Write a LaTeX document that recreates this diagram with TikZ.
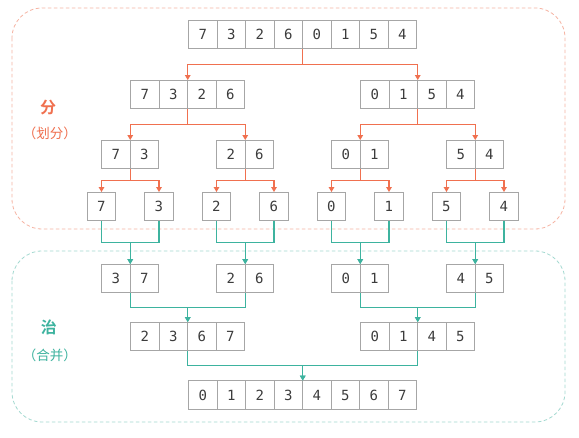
\documentclass[tikz,border=0pt]{standalone}
\usepackage{fontspec}
\newfontfamily\cjk{Noto Sans CJK SC}
\newfontfamily\cjkb{Noto Sans CJK SC Bold}
\newfontfamily\mono{DejaVu Sans Mono}
\usetikzlibrary{arrows.meta,calc}
\definecolor{orng}{HTML}{F0704F}
\definecolor{orngl}{HTML}{F6B3A2}
\definecolor{teal2}{HTML}{3DB39F}
\definecolor{teall}{HTML}{A3D9D0}
\definecolor{cellc}{HTML}{A6A6A6}
\definecolor{txtc}{HTML}{3C3C3C}
\tikzset{
  cell/.style={draw=cellc, line width=1.1pt, minimum size=28.5pt, inner sep=0pt,
    text=txtc, font=\mono\fontsize{14}{14}\selectfont},
  arrframe/.style={minimum height=28.5pt, inner sep=0pt},
  divline/.style={draw=orng, line width=1.2pt, -{Triangle[width=5.5pt,length=5pt]}},
  mrgline/.style={draw=teal2, line width=1.2pt, -{Triangle[width=5.5pt,length=5pt]}},
  region/.style={dash pattern=on 3.5pt off 2.5pt, line width=0.8pt, rounded corners=30pt},
  bigl/.style={font=\cjkb\fontsize{16}{16}\selectfont},
  smalll/.style={font=\cjk\fontsize{13.5}{13.5}\selectfont},
}
\newcommand\arr[5]{%
  \node[arrframe, minimum width=#4*28.5pt] (#1) at (#2,#3) {};
  \foreach \v [count=\i] in {#5} {
    \node[cell] (#1-\i) at ($(#1.west)+(\i*28.5-14.25,0)$) {\v};
  }%
}
\begin{document}
\begin{tikzpicture}[x=1pt,y=-1pt]
\useasboundingbox[fill=white] (0,0) rectangle (579,438);
% regions
\draw[region, draw=orngl] (12,8) rectangle (565,229);
\draw[region, draw=teall] (12,251) rectangle (565,422);
% labels
\node[text=orng, bigl] (lfen) at (48,108) {分};
\node[text=orng, smalll] (lhuafen) at (50,133) {（划分）};
\node[text=teal2, bigl] (lzhi) at (49,327) {治};
\node[text=teal2, smalll] (lhebing) at (50,355) {（合并）};
% divide
\arr{a}{302.75}{34.5}{8}{7,3,2,6,0,1,5,4}
\arr{b1}{187.75}{94.5}{4}{7,3,2,6}
\arr{b2}{417.75}{94.5}{4}{0,1,5,4}
\arr{c1}{130.25}{154.5}{2}{7,3}
\arr{c2}{245.25}{154.5}{2}{2,6}
\arr{c3}{360.25}{154.5}{2}{0,1}
\arr{c4}{475.25}{154.5}{2}{5,4}
\arr{d1}{101.5}{206.5}{1}{7}
\arr{d2}{159}{206.5}{1}{3}
\arr{d3}{216.5}{206.5}{1}{2}
\arr{d4}{274}{206.5}{1}{6}
\arr{d5}{331.5}{206.5}{1}{0}
\arr{d6}{389}{206.5}{1}{1}
\arr{d7}{446.5}{206.5}{1}{5}
\arr{d8}{504}{206.5}{1}{4}
% merge
\arr{e1}{130.25}{278.5}{2}{3,7}
\arr{e2}{245.25}{278.5}{2}{2,6}
\arr{e3}{360.25}{278.5}{2}{0,1}
\arr{e4}{475.25}{278.5}{2}{4,5}
\arr{f1}{187.75}{336.5}{4}{2,3,6,7}
\arr{f2}{417.75}{336.5}{4}{0,1,4,5}
\arr{g}{302.75}{395}{8}{0,1,2,3,4,5,6,7}
% divide connectors
\foreach \p/\c in {a/b1,a/b2,b1/c1,b1/c2,b2/c3,b2/c4,c1/d1,c1/d2,c2/d3,c2/d4,c3/d5,c3/d6,c4/d7,c4/d8}{
  \draw[divline] (\p.south) |- ($(\p.south)!0.5!(\c.north)$) -| (\c.north);
}
% merge connectors
\foreach \c/\m in {d1/e1,d2/e1,d3/e2,d4/e2,d5/e3,d6/e3,d7/e4,d8/e4,e1/f1,e2/f1,e3/f2,e4/f2,f1/g,f2/g}{
  \draw[mrgline] (\c.south) |- ($(\c.south)!0.5!(\m.north)$) -| (\m.north);
}
\end{tikzpicture}
\end{document}
